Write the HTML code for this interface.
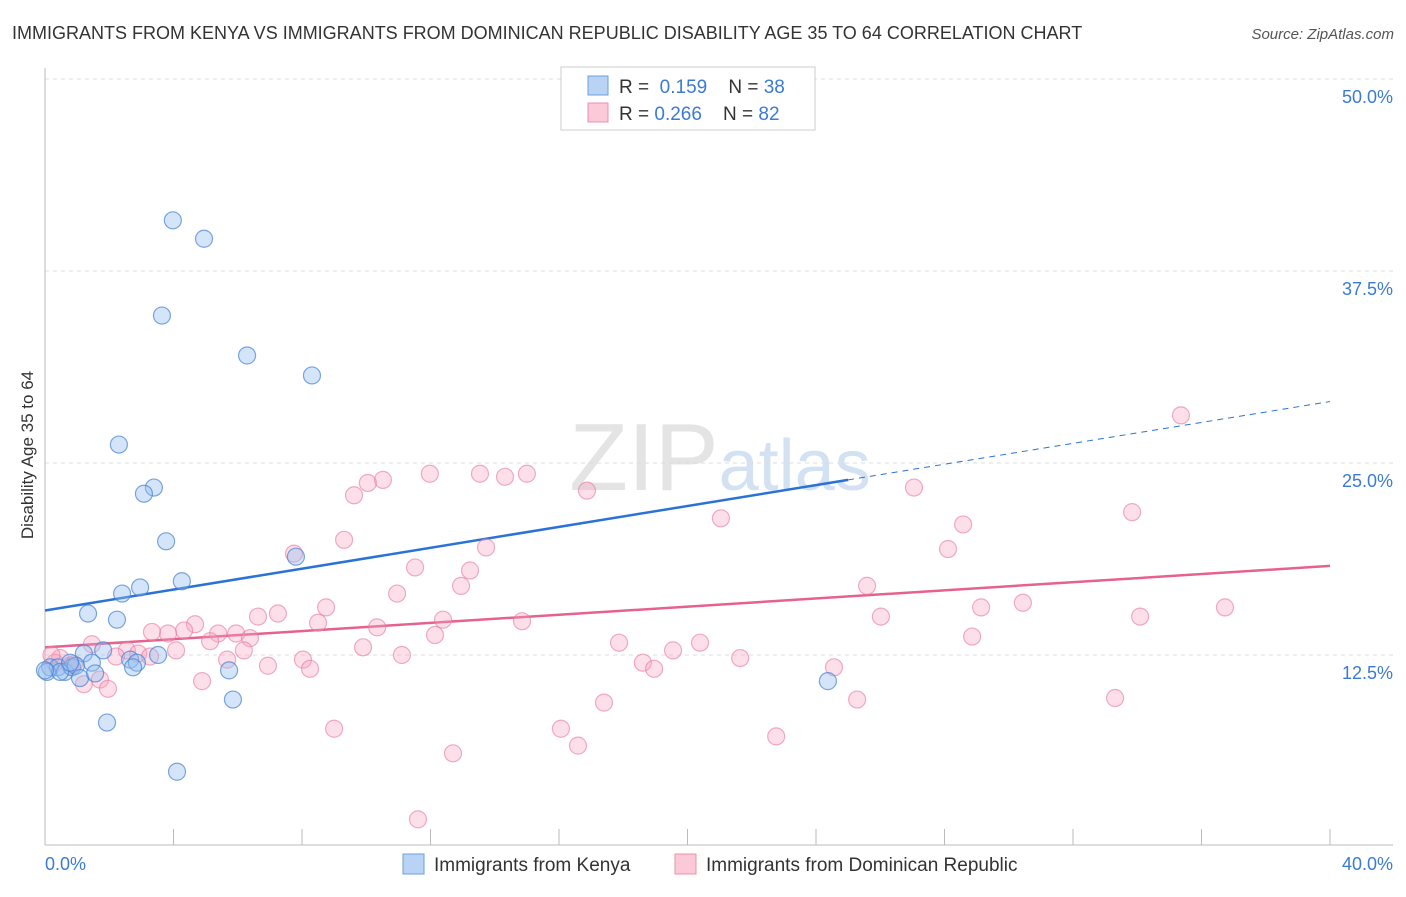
<!DOCTYPE html>
<html><head><meta charset="utf-8"><style>
body{margin:0;background:#fff;font-family:"Liberation Sans",sans-serif;}
svg text{font-family:"Liberation Sans",sans-serif;}
</style></head><body>
<svg id="chart" width="1406" height="892" xmlns="http://www.w3.org/2000/svg">
<text x="12" y="39" font-size="18" fill="#333">IMMIGRANTS FROM KENYA VS IMMIGRANTS FROM DOMINICAN REPUBLIC DISABILITY AGE 35 TO 64 CORRELATION CHART</text>
<text x="1394" y="39" font-size="15" fill="#555" text-anchor="end" font-style="italic">Source: ZipAtlas.com</text>
<text x="720" y="490" font-size="96" fill="#e4e4e4" text-anchor="middle" font-family="Liberation Serif">ZIP<tspan fill="#d3e2f3" font-family="Liberation Sans" font-size="72">atlas</tspan></text>
<text transform="translate(33,455) rotate(-90)" font-size="17" fill="#333" text-anchor="middle">Disability Age 35 to 64</text>
<g id="grid"></g><g id="axes"></g><g id="lines"></g><g id="pts"></g>
<g>
<rect x="561" y="67" width="254" height="63" fill="#fff" stroke="#ccc"/>
<rect x="588" y="76" width="20" height="19" fill="#b9d3f5" stroke="#6d9ee0"/>
<rect x="588" y="103" width="20" height="19" fill="#fbc9d8" stroke="#ec8fae"/>
<text x="619" y="93" font-size="19" fill="#333">R = <tspan fill="#3b7bd4">&#160;0.159</tspan>&#160;&#160;&#160;&#160;N = <tspan fill="#3b7bd4">38</tspan></text>
<text x="619" y="120" font-size="19" fill="#333">R = <tspan fill="#3b7bd4">0.266</tspan>&#160;&#160;&#160;&#160;N = <tspan fill="#3b7bd4">82</tspan></text>
</g>
<g>
<rect x="403" y="854" width="21" height="20" fill="#b9d3f5" stroke="#6d9ee0"/>
<text x="434" y="871" font-size="19" fill="#333">Immigrants from Kenya</text>
<rect x="675" y="854" width="21" height="20" fill="#fbc9d8" stroke="#ec8fae"/>
<text x="706" y="871" font-size="19" fill="#333">Immigrants from Dominican Republic</text>
</g>
</svg>
<script>
const yTicks=[12.5,25,37.5,50];
const yTickLabels=["12.5%","25.0%","37.5%","50.0%"];
const xTicks=[0,4,8,12,16,20,24,28,32,36,40];
const kenyaX=[3.98,4.95,3.64,6.29,8.31,2.30,3.39,3.08,3.77,7.81,4.26,2.96,2.40,1.34,2.24,1.21,1.81,1.46,2.65,2.86,2.74,3.52,0.16,0.40,0.62,0.84,0.96,1.09,1.56,0.06,5.73,5.85,1.93,4.11,24.37,0.47,0.78,0.0];
const kenyaY=[40.8,39.6,34.6,32.0,30.7,26.2,23.4,23.0,19.9,18.9,17.3,16.9,16.5,15.2,14.8,12.6,12.8,12.0,12.2,12.0,11.7,12.5,11.7,11.7,11.4,11.7,11.8,11.0,11.3,11.4,11.5,9.6,8.1,4.9,10.8,11.4,12.0,11.5];
const domX=[35.36,27.05,33.84,28.58,21.04,28.11,16.87,11.98,13.54,14.32,15.00,10.52,10.05,9.62,9.31,13.73,7.75,11.52,13.23,12.95,10.96,25.59,8.75,7.25,6.63,29.14,30.44,36.73,34.09,26.02,8.50,12.39,14.85,10.34,12.14,28.86,4.67,4.33,3.83,3.33,5.39,5.95,5.14,6.38,1.46,17.87,20.39,19.55,9.90,6.19,2.55,2.90,3.27,4.08,2.21,11.11,5.67,8.03,21.64,18.61,18.96,24.56,6.94,8.25,0.47,0.31,0.78,1.71,1.21,1.96,4.89,33.31,25.28,17.40,9.00,16.06,22.76,16.59,12.70,11.61,0.2,0.9];
const domY=[28.1,23.4,21.8,21.0,21.4,19.4,23.2,24.3,24.3,24.1,24.3,23.9,23.7,22.9,20.0,19.5,19.1,18.2,18.0,17.0,16.5,17.0,15.6,15.2,15.0,15.6,15.9,15.6,15.0,15.0,14.6,14.8,14.7,14.3,13.8,13.7,14.5,14.1,13.9,14.0,13.9,13.9,13.4,13.6,13.2,13.3,13.3,12.8,13.0,12.8,12.8,12.6,12.4,12.8,12.4,12.5,12.2,12.2,12.3,12.0,11.6,11.7,11.8,11.6,12.3,12.0,11.8,10.9,10.6,10.3,10.8,9.7,9.6,9.4,7.7,7.7,7.2,6.6,6.1,1.8,12.5,11.9];
const kenyaTrend=[15.4,23.9,29.0]; // at x=0, 25, 40
const domTrend=[13.0,18.3]; // at x=0, 40
const NS="http://www.w3.org/2000/svg";
const X=v=>45+v/40*1285, Y=v=>847-v/12.5*192;
function mk(t,a,p){const e=document.createElementNS(NS,t);for(const k in a)e.setAttribute(k,a[k]);document.getElementById(p).appendChild(e);return e;}
yTicks.forEach((t,i)=>{
 const l=mk('line',{x1:45,x2:1393,y1:Y(t),y2:Y(t),stroke:'#ddd','stroke-dasharray':'4,4'},'grid');
 
 
 const tx=mk('text',{x:1393,y:Y(t)+24,'font-size':18,fill:'#3b7bd4','text-anchor':'end'},'axes');
 tx.textContent=yTickLabels[i];
 
 
});
const ax=mk('line',{x1:45,x2:45,y1:68,y2:845,stroke:'#bbb'},'axes');


const bx=mk('line',{x1:45,x2:1393,y1:845,y2:845,stroke:'#bbb'},'axes');


xTicks.forEach(t=>{
 const l=mk('line',{x1:X(t),x2:X(t),y1:829,y2:845,stroke:'#bbb'},'axes');
 
 
});
const x0=mk('text',{x:45,y:870,'font-size':18,fill:'#3b7bd4'},'axes');x0.textContent='0.0%';


const x1=mk('text',{x:1393,y:870,'font-size':18,fill:'#3b7bd4','text-anchor':'end'},'axes');x1.textContent='40.0%';


domX.forEach((v,i)=>{
 const c=mk('circle',{cx:X(v),cy:Y(domY[i]),r:8.5,fill:'rgba(246,164,191,0.35)',stroke:'rgba(232,120,158,0.6)','stroke-width':1.2},'pts');
 
 
});
kenyaX.forEach((v,i)=>{
 const c=mk('circle',{cx:X(v),cy:Y(kenyaY[i]),r:8.5,fill:'rgba(150,190,240,0.4)',stroke:'rgba(70,130,210,0.7)','stroke-width':1.2},'pts');
 
 
});
const kt=mk('line',{x1:X(0),y1:Y(kenyaTrend[0]),x2:X(25),y2:Y(kenyaTrend[1]),stroke:'#2a72d6','stroke-width':2.5},'lines');


const kd=mk('line',{x1:X(25),y1:Y(kenyaTrend[1]),x2:X(40),y2:Y(kenyaTrend[2]),stroke:'#2a72d6','stroke-width':1,'stroke-dasharray':'6,5'},'lines');


const dt=mk('line',{x1:X(0),y1:Y(domTrend[0]),x2:X(40),y2:Y(domTrend[1]),stroke:'#e5628f','stroke-width':2.5},'lines');


</script>
</body></html>
